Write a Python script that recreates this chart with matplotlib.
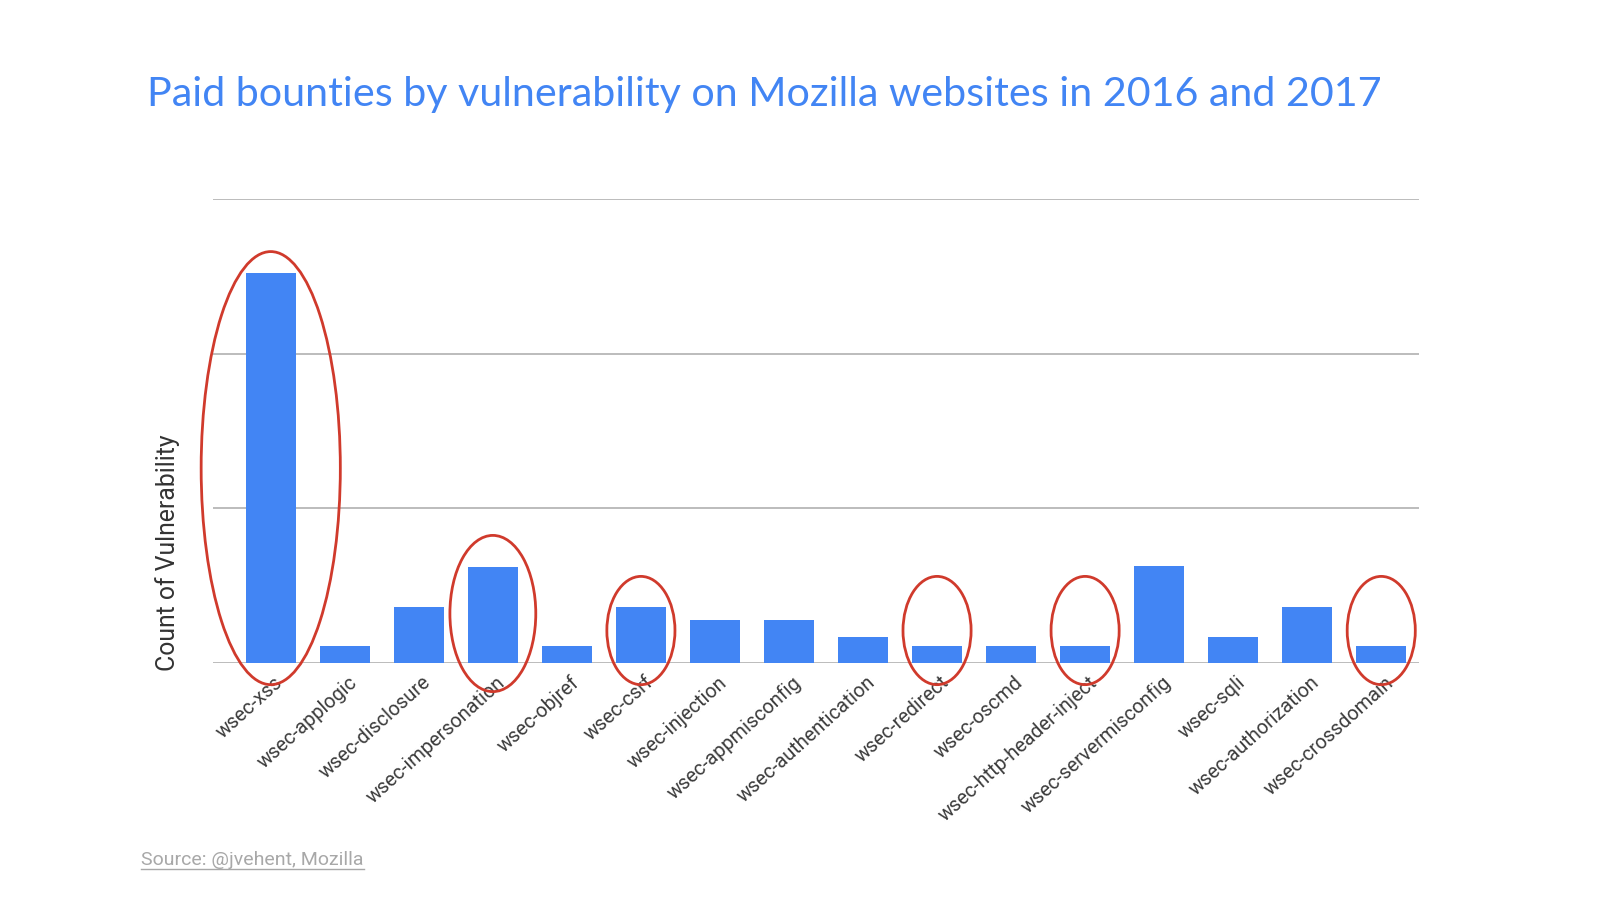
#Bar chart of paid bounties by vulnerability class

import matplotlib.pyplot as plt
from matplotlib.patches import Ellipse
from matplotlib.lines import Line2D
import matplotlib.transforms as mtransforms

categories = ['wsec-xss', 'wsec-applogic', 'wsec-disclosure', 'wsec-impersonation',
              'wsec-objref', 'wsec-csrf', 'wsec-injection', 'wsec-appmisconfig',
              'wsec-authentication', 'wsec-redirect', 'wsec-oscmd',
              'wsec-http-header-inject', 'wsec-servermisconfig', 'wsec-sqli',
              'wsec-authorization', 'wsec-crossdomain']
counts = [25.2, 1.1, 3.6, 6.2, 1.1, 3.6, 2.8, 2.8, 1.7, 1.1, 1.1, 1.1, 6.3, 1.7, 3.6, 1.1]

circled = ['wsec-xss', 'wsec-impersonation', 'wsec-csrf', 'wsec-redirect',
           'wsec-http-header-inject', 'wsec-crossdomain']

title = 'Paid bounties by vulnerability on Mozilla websites in 2016 and 2017'
ylabel = 'Count of Vulnerability'
source = 'Source: @jvehent, Mozilla'

blue = '#4285F4'
red = '#D03A2C'

fig = plt.figure(figsize=(16, 9), dpi=100)
ax = fig.add_axes([213/1600, 1-663/900, (1419-213)/1600, (663-199)/900])

x = list(range(len(categories)))
ax.bar(x, counts, width=0.68, color=blue, zorder=2)

ax.set_ylim(0, 30)
ax.set_xlim(-0.78, len(categories) - 1 + 0.51)
ax.set_yticks([0, 10, 20, 30])
ax.set_yticklabels([])
ax.tick_params(axis='y', length=0)
ax.grid(axis='y', color='#b0b0b0', linewidth=1.2, zorder=0)
for s in ax.spines.values():
    s.set_visible(False)

ax.set_xticks(x)
ax.set_xticklabels(categories, rotation=42, ha='right', va='top',
                   rotation_mode='anchor', fontsize=14.3, color='#3c3c3c',
                   family='Roboto')
ax.tick_params(axis='x', length=0, pad=7)
shift = mtransforms.ScaledTranslation(3/100, 0, fig.dpi_scale_trans)
for lab in ax.get_xticklabels():
    lab.set_transform(lab.get_transform() + shift)

ax.set_ylabel(ylabel, fontsize=17.8, color='#333333', family='Roboto')
ax.yaxis.set_label_coords(-0.027, 0.237)

# hand drawn red rings around some of the bars
ring_style = {'wsec-xss': (1.88, 12.6, 28.0),
              'wsec-impersonation': (1.16, 3.2, 10.1)}
for name in circled:
    i = categories.index(name)
    w, yc, h = ring_style.get(name, (0.92, 2.1, 7.0))
    e = Ellipse((i, yc), w, h, fill=False, edgecolor=red, linewidth=2,
                zorder=3, clip_on=False)
    ax.add_patch(e)

fig.text(147/1600, 1-106/900, title, color=blue, fontsize=29.7, family='Lato',
         ha='left', va='baseline')

src = fig.text(141/1600, 1-865/900, source, color='#a8a8a8', fontsize=14,
               family='Roboto', fontstretch='condensed',
               ha='left', va='baseline')
fig.canvas.draw()
bb = src.get_window_extent().transformed(fig.transFigure.inverted())
uy = 1-869/900
fig.add_artist(Line2D([bb.x0, bb.x1], [uy, uy], color='#a8a8a8', linewidth=1))

fig.savefig('out.png', dpi=100)
